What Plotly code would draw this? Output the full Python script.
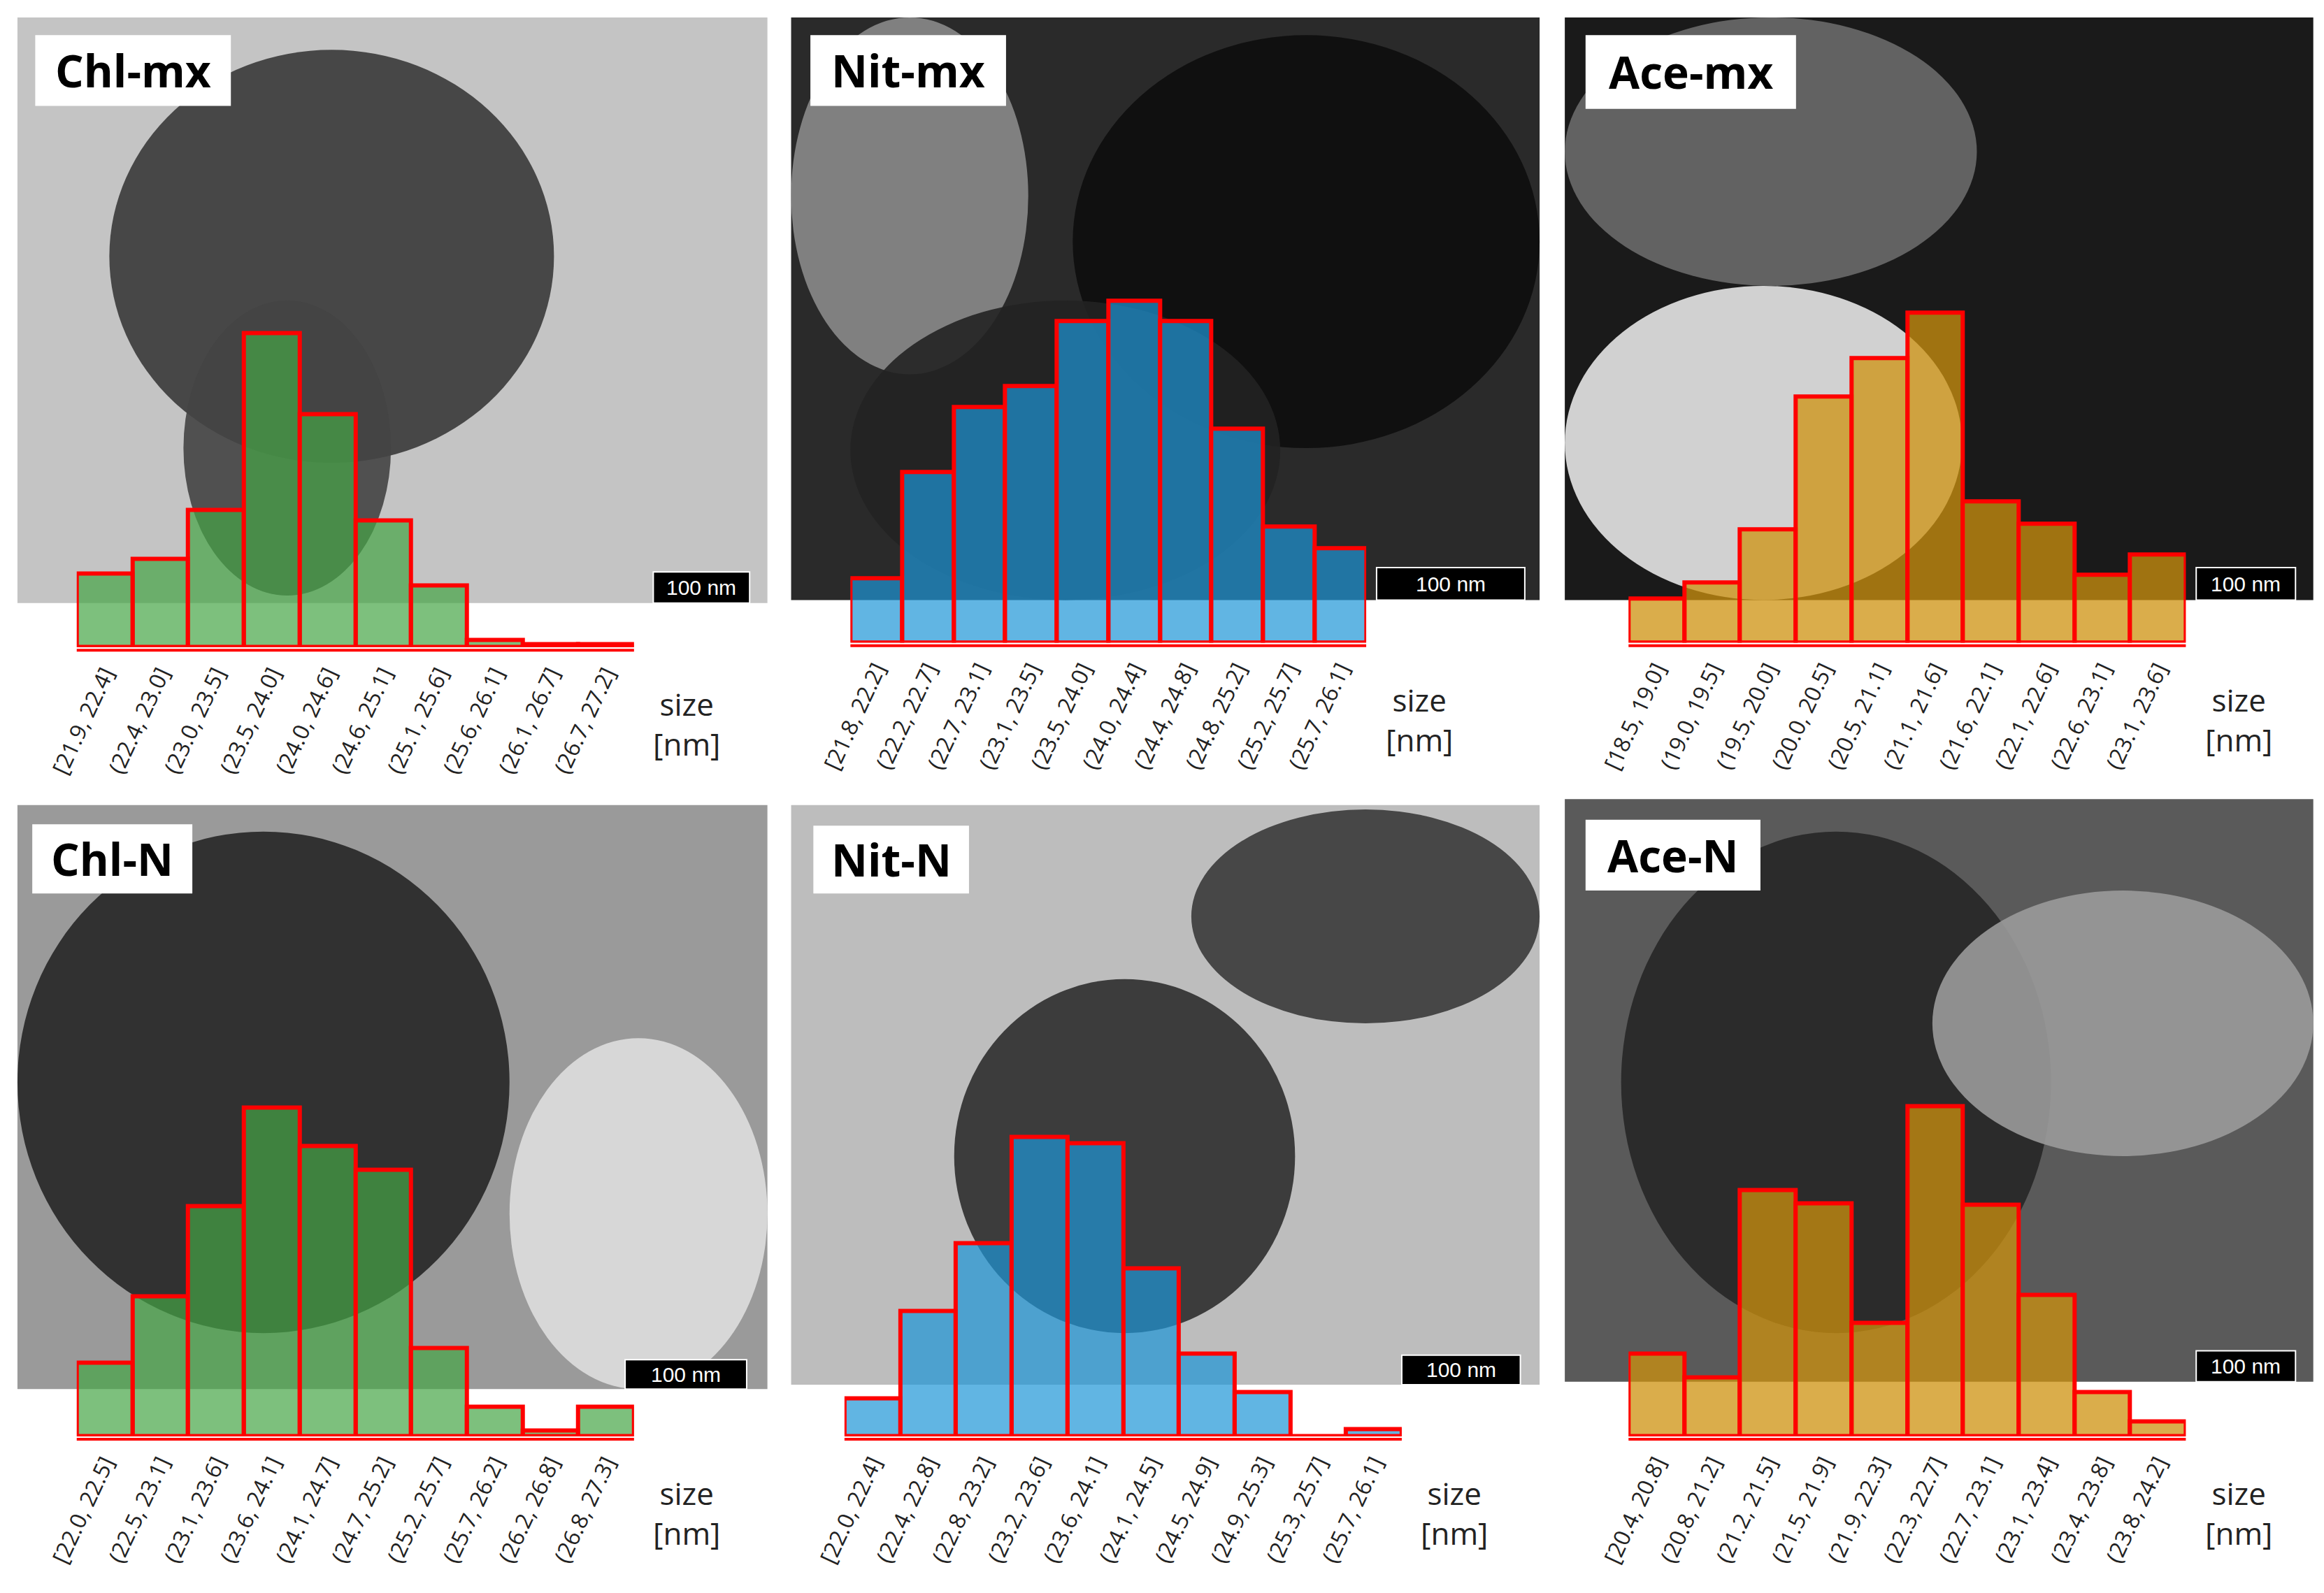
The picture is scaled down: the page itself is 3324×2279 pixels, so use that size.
import plotly.graph_objects as go

W, H = 1568.0, 1080.0
def px(x): return x / W
def py(y): return 1 - y / H

titles = ["Chl-mx", "Nit-mx", "Ace-mx", "Chl-N", "Nit-N", "Ace-N"]
bins_chl_mx = ["[21.9, 22.4]", "(22.4, 23.0]", "(23.0, 23.5]", "(23.5, 24.0]", "(24.0, 24.6]", "(24.6, 25.1]", "(25.1, 25.6]", "(25.6, 26.1]", "(26.1, 26.7]", "(26.7, 27.2]"]
bins_nit_mx = ["[21.8, 22.2]", "(22.2, 22.7]", "(22.7, 23.1]", "(23.1, 23.5]", "(23.5, 24.0]", "(24.0, 24.4]", "(24.4, 24.8]", "(24.8, 25.2]", "(25.2, 25.7]", "(25.7, 26.1]"]
bins_ace_mx = ["[18.5, 19.0]", "(19.0, 19.5]", "(19.5, 20.0]", "(20.0, 20.5]", "(20.5, 21.1]", "(21.1, 21.6]", "(21.6, 22.1]", "(22.1, 22.6]", "(22.6, 23.1]", "(23.1, 23.6]"]
bins_chl_n = ["[22.0, 22.5]", "(22.5, 23.1]", "(23.1, 23.6]", "(23.6, 24.1]", "(24.1, 24.7]", "(24.7, 25.2]", "(25.2, 25.7]", "(25.7, 26.2]", "(26.2, 26.8]", "(26.8, 27.3]"]
bins_nit_n = ["[22.0, 22.4]", "(22.4, 22.8]", "(22.8, 23.2]", "(23.2, 23.6]", "(23.6, 24.1]", "(24.1, 24.5]", "(24.5, 24.9]", "(24.9, 25.3]", "(25.3, 25.7]", "(25.7, 26.1]"]
bins_ace_n = ["[20.4, 20.8]", "(20.8, 21.2]", "(21.2, 21.5]", "(21.5, 21.9]", "(21.9, 22.3]", "(22.3, 22.7]", "(22.7, 23.1]", "(23.1, 23.4]", "(23.4, 23.8]", "(23.8, 24.2]"]

freq_chl_mx = [50, 60, 93, 213, 158, 86, 42, 5, 2, 2]
freq_nit_mx = [44, 116, 160, 174, 218, 232, 218, 145, 79, 64]
freq_ace_mx = [30, 41, 77, 167, 193, 224, 96, 81, 46, 60]
freq_chl_n = [50, 95, 156, 223, 197, 181, 60, 20, 4, 20]
freq_nit_n = [26, 85, 131, 203, 199, 114, 56, 30, 0, 5]
freq_ace_n = [56, 40, 167, 158, 77, 224, 157, 96, 30, 10]

bins = [bins_chl_mx, bins_nit_mx, bins_ace_mx, bins_chl_n, bins_nit_n, bins_ace_n]
freqs = [freq_chl_mx, freq_nit_mx, freq_ace_mx, freq_chl_n, freq_nit_n, freq_ace_n]
fills = ["rgba(70,165,70,0.7)", "rgba(30,150,215,0.7)", "rgba(205,145,15,0.75)"] * 2

hist_x = [(48, 424), (570, 918), (1095, 1471), (48, 424), (566, 942), (1095, 1471)]
base_y = [435, 432, 432, 970, 970, 970]
img = [(8, 8, 514, 405), (530, 8, 1035, 403), (1052, 8, 1557, 403),
       (8, 542, 514, 938), (530, 542, 1035, 935), (1052, 538, 1557, 933)]
img_col = ["#c4c4c4", "#2a2a2a", "#1a1a1a", "#9a9a9a", "#bdbdbd", "#5a5a5a"]
blobs = [
    [(70, 30, 370, 310, "#3a3a3a"), (120, 200, 260, 400, "#444")],
    [(530, 8, 690, 250, "#8a8a8a"), (720, 20, 1035, 300, "#0d0d0d"), (570, 200, 860, 403, "#222")],
    [(1052, 190, 1320, 403, "#e6e6e6"), (1052, 8, 1330, 190, "#6a6a6a")],
    [(8, 560, 340, 900, "#262626"), (340, 700, 514, 938, "#dedede")],
    [(640, 660, 870, 900, "#2e2e2e"), (800, 545, 1035, 690, "#3a3a3a")],
    [(1090, 560, 1380, 900, "#262626"), (1300, 600, 1557, 780, "#9a9a9a")],
]
scale_box = [(437, 384, 502, 405), (925, 381, 1025, 403), (1478, 381, 1545, 403),
             (418, 918, 500, 938), (942, 915, 1022, 935), (1478, 912, 1545, 933)]
title_box = [(20, 20, 152, 68), (543, 20, 675, 68), (1066, 20, 1208, 70),
             (18, 555, 126, 602), (545, 556, 650, 602), (1066, 552, 1184, 600)]

fig = go.Figure()
shapes, annots = [], []
for i in range(6):
    ax = "" if i == 0 else str(i + 1)
    x0, x1 = hist_x[i]
    yb = base_y[i]
    fig.add_trace(go.Bar(x=bins[i], y=freqs[i], xaxis="x" + ax, yaxis="y" + ax,
                         marker=dict(color=fills[i], line=dict(color="#ff0000", width=6)),
                         showlegend=False))
    fig.layout["xaxis" + ax] = dict(domain=[px(x0), px(x1)], anchor="y" + ax, type="category",
                                    tickangle=-65, tickfont=dict(size=32, color="#222", family="Open Sans"),
                                    showgrid=False, showline=False, ticks="", zeroline=False,
                                    automargin=False, ticklabelstandoff=12)
    fig.layout["yaxis" + ax] = dict(domain=[py(yb), py(yb - 240)], anchor="x" + ax, range=[0, 240],
                                    visible=False, fixedrange=True, automargin=False)
    a, b, c, d = img[i]
    shapes.append(dict(type="rect", xref="paper", yref="paper", x0=px(a), x1=px(c), y0=py(d), y1=py(b),
                       fillcolor=img_col[i], line=dict(width=0), layer="below"))
    for (p, q, r, s, col) in blobs[i]:
        shapes.append(dict(type="circle", xref="paper", yref="paper", x0=px(p), x1=px(r), y0=py(s), y1=py(q),
                           fillcolor=col, line=dict(width=0), layer="below", opacity=0.9))
    shapes.append(dict(type="line", xref="paper", yref="paper", x0=px(x0), x1=px(x1), y0=py(yb + 2), y1=py(yb + 2),
                       line=dict(color="#ff0000", width=4)))
    p, q, r, s = scale_box[i]
    shapes.append(dict(type="rect", xref="paper", yref="paper", x0=px(p), x1=px(r), y0=py(s), y1=py(q),
                       fillcolor="black", line=dict(color="white", width=2)))
    annots.append(dict(xref="paper", yref="paper", x=px((p + r) / 2), y=py((q + s) / 2), text="100 nm",
                       xanchor="center", yanchor="middle",
                       showarrow=False, font=dict(size=30, color="white", family="Liberation Sans")))
    p, q, r, s = title_box[i]
    shapes.append(dict(type="rect", xref="paper", yref="paper", x0=px(p), x1=px(r), y0=py(s), y1=py(q),
                       fillcolor="white", line=dict(width=0)))
    annots.append(dict(xref="paper", yref="paper", x=px((p + r) / 2), y=py((q + s) / 2), text="<b>" + titles[i] + "</b>",
                       xanchor="center", yanchor="middle",
                       showarrow=False, font=dict(size=64, color="black", family="Open Sans")))
    annots.append(dict(xref="paper", yref="paper", x=px(x1 + 12), y=py(yb + 52), xanchor="left", yanchor="middle",
                       text="size<br>[nm]", showarrow=False, align="center",
                       font=dict(size=44, color="#222", family="Open Sans")))

fig.update_layout(width=3324, height=2279, margin=dict(l=0, r=0, t=0, b=0),
                  paper_bgcolor="white", plot_bgcolor="rgba(0,0,0,0)", bargap=0,
                  shapes=shapes, annotations=annots)
fig.write_html("out.html")
